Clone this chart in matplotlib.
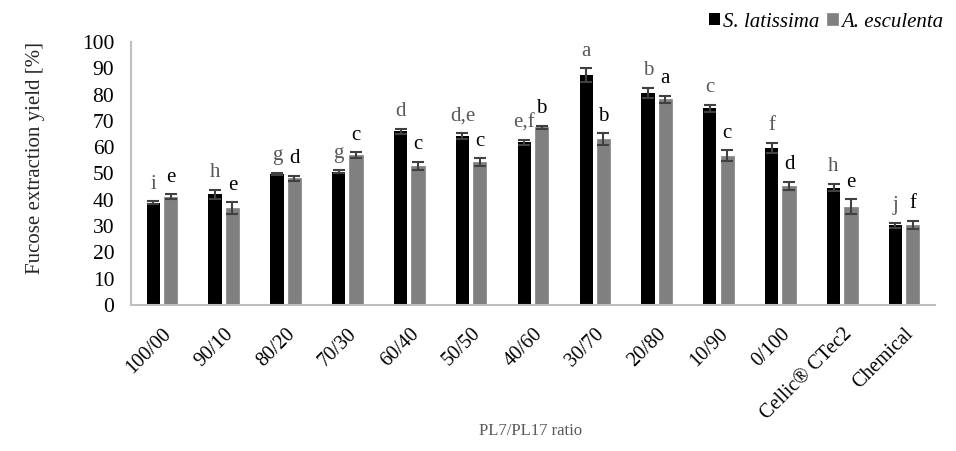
import matplotlib
matplotlib.use("Agg")
import matplotlib.pyplot as plt
import numpy as np

plt.rcParams['font.family'] = ['Liberation Serif', 'DejaVu Serif']

categories = ["100/00", "90/10", "80/20", "70/30", "60/40", "50/50", "40/60",
              "30/70", "20/80", "10/90", "0/100", "Cellic® CTec2", "Chemical"]

s_latissima = [38.9, 42.0, 49.8, 50.6, 66.0, 64.3, 61.8, 87.4, 80.6, 74.7, 59.8, 44.6, 30.3]
s_latissima_err = [0.5, 1.7, 0.5, 0.6, 1.0, 1.1, 1.0, 2.5, 1.9, 1.5, 1.9, 1.4, 1.0]
s_latissima_groups = ["i", "h", "g", "g", "d", "d,e", "e,f", "a", "b", "c", "f", "h", "j"]

a_esculenta = [41.1, 36.7, 48.2, 57.0, 52.8, 54.4, 67.5, 63.0, 78.2, 56.7, 45.3, 37.3, 30.3]
a_esculenta_err = [1.0, 2.3, 1.0, 1.0, 1.5, 1.4, 0.6, 2.2, 1.3, 2.1, 1.5, 2.8, 1.6]
a_esculenta_groups = ["e", "e", "d", "c", "c", "c", "b", "b", "a", "c", "d", "e", "f"]

fig = plt.figure(figsize=(9.56, 4.51), dpi=100)
ax = fig.add_axes([0.137, 0.324, 0.841, 0.583])

x = np.arange(len(categories))
w = 0.215
off = 0.14
err_kw = dict(ecolor="#404040", elinewidth=1.5, capsize=4.5, capthick=1.5)

ax.bar(x - off, s_latissima, w, color="black", yerr=s_latissima_err,
       error_kw=err_kw, label="S. latissima", zorder=2)
ax.bar(x + off, a_esculenta, w, color="#808080", edgecolor="#8c8c8c", linewidth=0.6,
       yerr=a_esculenta_err, error_kw=err_kw, label="A. esculenta", zorder=2)

# significance letters above each error bar
for xi, v, e, g in zip(x, s_latissima, s_latissima_err, s_latissima_groups):
    ax.text(xi - off, v + e + 4.8, g, ha="center", va="baseline",
            fontsize=15, color="#595959")
for xi, v, e, g in zip(x, a_esculenta, a_esculenta_err, a_esculenta_groups):
    ax.text(xi + off, v + e + 4.8, g, ha="center", va="baseline",
            fontsize=15, color="black")

ax.set_xlim(-0.5, len(categories) - 0.5)
ax.set_ylim(0, 100)
ax.set_yticks(np.arange(0, 101, 10))
ax.set_xticks(x)
ax.set_xticklabels(categories, rotation=45, ha="right", rotation_mode="anchor",
                   fontsize=14.5)
ax.tick_params(axis="y", labelsize=15.5, length=0, pad=12)
ax.tick_params(axis="x", length=0, pad=14)

for side in ("top", "right"):
    ax.spines[side].set_visible(False)
for side in ("left", "bottom"):
    ax.spines[side].set_color("#bfbfbf")
    ax.spines[side].set_linewidth(1.5)

ax.set_ylabel("Fucose extraction yield [%]", fontsize=15, color="#262626")
ax.yaxis.set_label_coords(-0.107, 0.56)
fig.text(0.555, 0.045, "PL7/PL17 ratio", ha="center", va="center",
         fontsize=12, color="#595959")

leg = fig.legend(loc="upper right", bbox_to_anchor=(1.0, 1.0), ncol=2, frameon=False,
                 prop={"style": "italic", "size": 15}, handlelength=0.55,
                 handleheight=0.55, handletextpad=0.15, columnspacing=0.35,
                 borderaxespad=0.2)

fig.savefig("out.png", dpi=100)
